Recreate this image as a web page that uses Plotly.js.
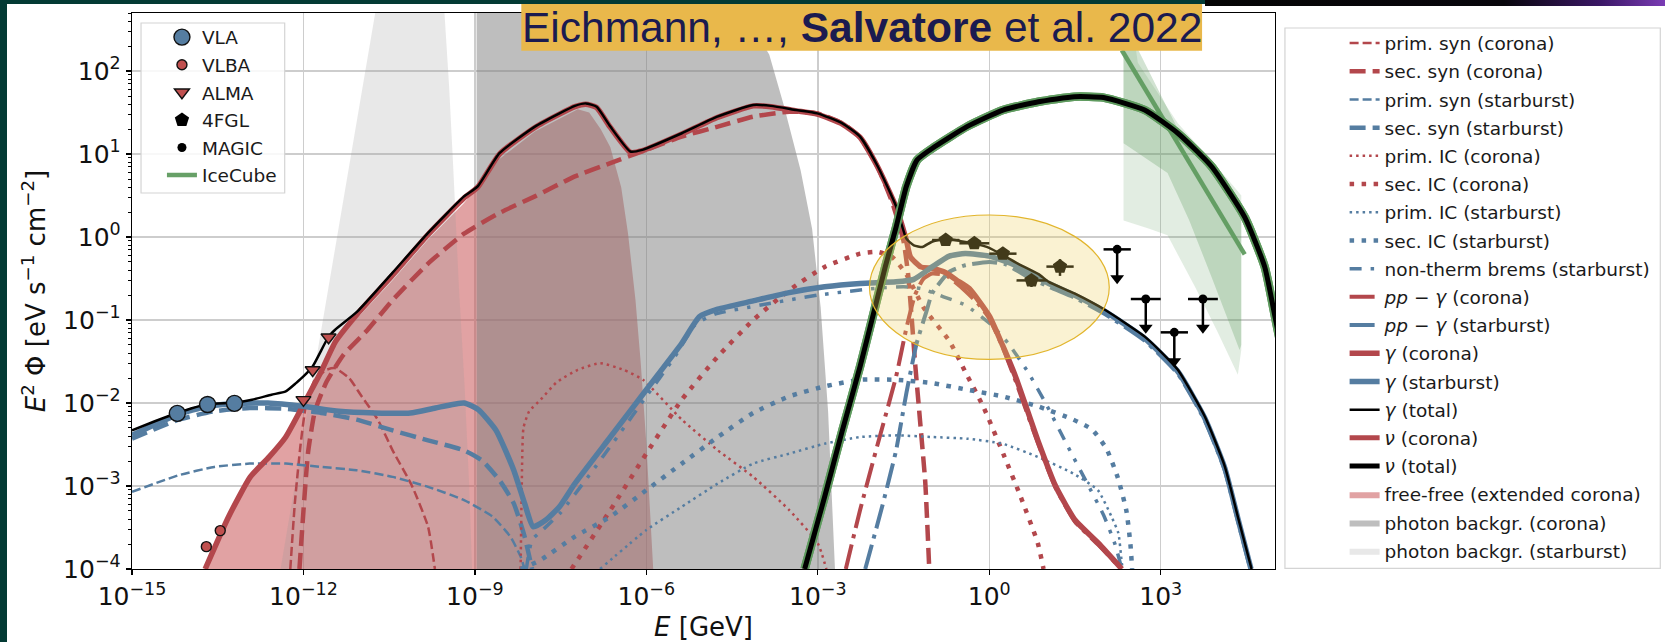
<!DOCTYPE html>
<html>
<head>
<meta charset="utf-8">
<script src="https://cdn.plot.ly/plotly-3.0.1.min.js"></script>
<style>
  html, body { margin:0; padding:0; width:1665px; height:642px; overflow:hidden; background:#033a34; }
  #frame { position:absolute; left:7px; top:4px; width:1658px; height:638px; background:#ffffff; }
  #chart { width:1658px; height:638px; }
  #topband { position:absolute; left:1205px; top:0; width:460px; height:6px;
    background:linear-gradient(90deg,#050505 0%,#08060c 65%,#3b1766 86%,#7a3cb4 100%); }
</style>
</head>
<body>
<div id="frame"><div id="chart"></div></div>
<div id="topband"></div>
<script>
// ---- model curves: log10(E / GeV) and log10(E^2 Phi / eV s^-1 cm^-2) ----
const gTotLogE = [-15, -14.6, -14.21, -13.68, -13.21, -12.9, -12.56, -12.31, -12.13, -12.0, -11.84, -11.56, -11.45, -11.06, -10.44, -9.82, -9.19, -8.95, -8.57, -7.95, -7.52, -7.25, -7.06, -6.87, -6.63, -6.28, -6.07, -5.38, -4.76, -4.13, -3.82, -3.38, -3.01, -2.57, -2.26, -1.95, -1.63, -1.45, -1.32, -1.17, -1.01, -0.76, -0.5, -0.26, 0.0, 0.24, 0.5, 0.87, 1.04, 1.49, 2.03, 2.72, 3.0, 3.3, 3.77, 4.12, 4.35, 4.59];
const gTotLogF = [-2.33, -2.22, -2.12, -2.015, -1.995, -1.96, -1.9, -1.86, -1.76, -1.68, -1.56, -1.2, -1.12, -0.9, -0.43, 0.05, 0.49, 0.61, 1.01, 1.33, 1.49, 1.58, 1.61, 1.57, 1.33, 1.03, 1.05, 1.25, 1.45, 1.59, 1.58, 1.53, 1.49, 1.37, 1.21, 0.85, 0.37, -0.02, -0.1, -0.12, -0.06, -0.02, -0.05, -0.08, -0.13, -0.22, -0.32, -0.45, -0.54, -0.68, -0.88, -1.2, -1.38, -1.6, -2.16, -2.76, -3.37, -4.0];

const gCorLogE = [-13.72, -13.31, -12.93, -12.6, -12.31, -12.0, -11.69, -11.44, -11.06, -10.44, -9.82, -9.19, -8.95, -8.57, -7.95, -7.52, -7.25, -7.06, -6.87, -6.63, -6.28, -6.07, -5.38, -4.76, -4.13, -3.82, -3.38, -3.01, -2.57, -2.26, -1.95, -1.63, -1.45, -1.38, -1.2, -1.0, -0.76, -0.57, -0.35, 0.0, 0.23, 0.47, 0.85, 1.16, 1.5, 1.91, 2.32];
const gCorLogF = [-4.0, -3.37, -2.89, -2.65, -2.41, -2.02, -1.62, -1.26, -0.93, -0.46, 0.03, 0.47, 0.6, 1.0, 1.32, 1.48, 1.57, 1.6, 1.56, 1.32, 1.02, 1.04, 1.24, 1.44, 1.58, 1.57, 1.52, 1.48, 1.36, 1.2, 0.84, 0.36, -0.04, -0.24, -0.36, -0.38, -0.43, -0.52, -0.62, -0.95, -1.3, -1.7, -2.45, -3.0, -3.41, -3.69, -4.0];

const gSbLogE = [-15, -14.6, -14.21, -13.68, -13.21, -12.62, -12.0, -11.38, -10.75, -10.13, -9.69, -9.19, -8.94, -8.63, -8.32, -8.13, -7.98, -7.76, -7.52, -7.25, -6.63, -6.0, -5.38, -5.07, -4.75, -4.13, -3.5, -2.88, -2.26, -1.63, -1.32, -1.0, -0.7, -0.42, 0.0, 0.45, 1.04, 1.49, 2.03, 2.72, 3.3, 3.77, 4.12, 4.35, 4.58];
const gSbLogF = [-2.39, -2.26, -2.14, -2.04, -2.01, -2.0, -2.04, -2.1, -2.12, -2.12, -2.06, -2.0, -2.08, -2.33, -2.81, -3.21, -3.49, -3.41, -3.25, -2.97, -2.41, -1.84, -1.28, -0.96, -0.87, -0.77, -0.67, -0.6, -0.56, -0.54, -0.51, -0.36, -0.23, -0.2, -0.23, -0.34, -0.56, -0.7, -0.9, -1.22, -1.62, -2.18, -2.78, -3.39, -4.0];

const pSynCLogE = [-12.23, -12.15, -12.05, -11.95, -11.8, -11.6, -11.45, -11.2, -11.0, -10.7, -10.44, -10.1, -9.82, -9.7];
const pSynCLogF = [-4.0, -3.2, -2.5, -2.0, -1.72, -1.6, -1.58, -1.7, -1.9, -2.2, -2.57, -3.0, -3.49, -4.0];

const sSynCLogE = [-12.07, -12.0, -11.92, -11.8, -11.6, -11.3, -10.88, -10.44, -9.82, -9.19, -8.57, -7.95, -7.25, -6.63, -6.0, -5.38, -4.75, -4.13, -3.5, -3.0, -2.57, -2.26, -1.95, -1.7, -1.5, -1.42, -1.36, -1.3, -1.2, -1.12, -1.05];
const sSynCLogF = [-4.0, -3.3, -2.6, -2.1, -1.75, -1.42, -1.12, -0.76, -0.32, 0.04, 0.29, 0.49, 0.73, 0.89, 1.05, 1.21, 1.33, 1.45, 1.51, 1.49, 1.37, 1.2, 0.84, 0.42, -0.05, -0.45, -0.95, -1.5, -2.3, -2.95, -4.0];

const pSynSLogE = [-15, -14.18, -13.56, -12.94, -12.31, -11.69, -11.07, -10.44, -9.82, -9.19, -8.69, -8.38, -8.2, -8.13];
const pSynSLogF = [-3.07, -2.87, -2.77, -2.73, -2.73, -2.77, -2.81, -2.89, -3.01, -3.17, -3.37, -3.61, -3.85, -4.0];

const sSynSLogE = [-15, -14.18, -13.56, -12.94, -12.31, -11.69, -11.07, -10.44, -9.82, -9.19, -8.88, -8.57, -8.32, -8.13, -8.0];
const sSynSLogF = [-2.43, -2.2, -2.1, -2.06, -2.07, -2.12, -2.2, -2.33, -2.45, -2.57, -2.69, -2.93, -3.21, -3.61, -4.0];

const pIcCLogE = [-8.2, -8.18, -8.15, -8.05, -7.85, -7.57, -7.2, -6.81, -6.4, -6.06, -5.38, -4.75, -4.13, -3.5, -3.0, -2.85];
const pIcCLogF = [-4.0, -3.0, -2.3, -2.1, -1.96, -1.75, -1.6, -1.52, -1.6, -1.72, -2.2, -2.57, -2.89, -3.29, -3.69, -4.0];

const sIcCLogE = [-7.31, -6.63, -6.0, -5.38, -4.75, -4.13, -3.5, -2.88, -2.26, -1.95, -1.7, -1.45, -1.15, -0.7, -0.4, -0.1, 0.25, 0.55, 0.85, 0.95];
const sIcCLogF = [-4.0, -3.29, -2.61, -1.96, -1.44, -1.0, -0.64, -0.36, -0.2, -0.18, -0.24, -0.45, -0.85, -1.25, -1.65, -2.05, -2.62, -3.13, -3.69, -4.0];

const pIcSLogE = [-6.81, -6.0, -5.38, -4.75, -4.13, -3.5, -2.88, -2.26, -1.63, -1.0, -0.39, 0.23, 0.85, 1.47, 1.9, 2.14, 2.26, 2.32, 2.34];
const pIcSLogF = [-4.0, -3.53, -3.25, -2.97, -2.73, -2.61, -2.49, -2.41, -2.39, -2.41, -2.43, -2.49, -2.65, -2.85, -3.05, -3.37, -3.57, -3.93, -4.0];

const sIcSLogE = [-8.2, -7.87, -7.25, -6.63, -6.0, -5.38, -4.75, -4.13, -3.5, -2.88, -2.26, -1.63, -1.0, -0.39, 0.23, 0.85, 1.47, 1.8, 2.05, 2.25, 2.4, 2.47, 2.5];
const sIcSLogF = [-4.0, -3.9, -3.61, -3.37, -3.05, -2.73, -2.41, -2.12, -1.92, -1.8, -1.72, -1.72, -1.76, -1.84, -1.92, -2.04, -2.2, -2.32, -2.55, -2.9, -3.3, -3.7, -4.0];

const bremsLogE = [-8.1, -8.0, -7.8, -7.5, -7.0, -6.5, -6.0, -5.5, -5.15, -4.8, -4.0, -3.0, -2.0, -1.5, -1.2, -0.8, -0.42, 0.04, 0.33, 0.68, 1.0, 1.35, 1.7, 2.0, 2.2, 2.32];
const bremsLogF = [-4.0, -3.65, -3.52, -3.32, -2.87, -2.4, -1.92, -1.44, -1.06, -0.93, -0.82, -0.7, -0.62, -0.6, -0.62, -0.72, -0.82, -1.06, -1.28, -1.63, -2.02, -2.49, -2.95, -3.35, -3.7, -4.0];

const ppCLogE = [-2.51, -2.26, -1.95, -1.63, -1.45, -1.3, -1.15, -1.0, -0.76, -0.5, -0.2, 0.0, 0.23, 0.47, 0.85, 1.16, 1.5, 1.91, 2.31];
const ppCLogF = [-4.0, -3.29, -2.49, -1.68, -1.1, -0.7, -0.5, -0.44, -0.46, -0.6, -0.8, -0.98, -1.32, -1.75, -2.48, -3.02, -3.43, -3.71, -4.0];

const ppSLogE = [-2.17, -1.89, -1.63, -1.45, -1.27, -1.1, -1.0, -0.7, -0.42, 0.0, 0.29, 0.6, 1.04, 1.49, 2.03, 2.72, 3.3, 3.77, 4.12, 4.35, 4.57];
const ppSLogF = [-4.0, -3.29, -2.57, -1.88, -1.28, -0.9, -0.68, -0.42, -0.34, -0.3, -0.33, -0.45, -0.6, -0.73, -0.93, -1.25, -1.65, -2.21, -2.81, -3.42, -4.0];

const nuTotLogE = [-3.23, -2.88, -2.57, -2.26, -2.01, -1.82, -1.63, -1.45, -1.26, -0.95, -0.39, 0.24, 0.86, 1.49, 2.0, 2.72, 3.3, 3.89, 4.47, 4.82, 5.0, 5.1];
const nuTotLogF = [-4.0, -3.13, -2.33, -1.56, -0.88, -0.36, 0.12, 0.61, 0.93, 1.09, 1.33, 1.53, 1.63, 1.69, 1.68, 1.53, 1.25, 0.85, 0.24, -0.36, -0.96, -1.3];
const nuCorLogE = [-3.23, -2.88, -2.57, -2.26, -2.01, -1.82, -1.63, -1.45, -1.26, -0.95, -0.39, 0.24, 0.86, 1.49, 2.0, 2.72, 3.3, 3.89, 4.47, 4.82, 5.0, 5.1];
const nuCorLogF = [-4.0, -3.13, -2.33, -1.56, -0.88, -0.36, 0.12, 0.61, 0.93, 1.09, 1.33, 1.53, 1.63, 1.69, 1.68, 1.53, 1.25, 0.85, 0.24, -0.36, -0.96, -1.3];

// ---- shaded regions (closed outlines) ----
const ffLogE = [-13.8, -13.72, -13.31, -12.93, -12.31, -12.0, -11.69, -11.44, -11.06, -10.44, -9.82, -9.19, -8.57, -7.95, -7.52, -7.2, -7.0, -6.8, -6.63, -6.44, -6.32, -6.19, -6.1, -6.0, -5.88, -5.85];
const ffLogF = [-5, -4.0, -3.37, -2.89, -2.41, -2.02, -1.62, -1.28, -0.98, -0.52, -0.03, 0.41, 0.94, 1.27, 1.43, 1.54, 1.5, 1.3, 1.08, 0.6, 0.04, -0.76, -1.5, -2.49, -4.0, -5];
const bkgCorLogE = [-8.97, -8.97, -4.4, -4.3, -3.85, -3.6, -3.3, -3.1, -2.95, -2.82, -2.7, -2.66];
const bkgCorLogF = [-5, 3, 3, 2.7, 2.2, 1.6, 0.8, 0.1, -0.85, -2.1, -4.0, -5];
const bkgSbLogE = [-12.5, -10.67, -9.56, -9.45, -9.38, -9.28, -9.18, -9.1, -9.05, -9.04];
const bkgSbLogF = [-4.4, 3, 3, 1.8, 0.85, -0.6, -1.8, -3.0, -4.0, -4.4];

// IceCube best fit and uncertainty regions
const icLineLogE = [2.32, 4.47];
const icLineLogF = [2.25, -0.21];
const icOuterLogE = [2.35, 2.35, 2.8, 3.12, 3.6, 4.0, 4.35, 4.41, 4.41, 4.18, 3.3, 2.6, 2.45];
const icOuterLogF = [2.8, 0.2, 0.1, 0.02, -0.6, -1.15, -1.66, -1.36, 0.5, 0.69, 1.37, 2.1, 2.8];
const icInnerLogE = [2.35, 2.35, 3.12, 3.5, 3.9, 4.38, 4.41, 4.41, 3.3, 2.5, 2.42];
const icInnerLogF = [2.8, 1.13, 0.77, 0.2, -0.5, -1.36, -1.3, 0.3, 1.3, 2.4, 2.8];

// ---- measurements (E in GeV, E^2 Phi in eV s^-1 cm^-2) ----
const vlaE = [6.2e-15, 2.1e-14, 6.2e-14];
const vlaF = [7.5e-3, 9.6e-3, 9.9e-3];
const vlbaE = [2.0e-14, 3.5e-14];
const vlbaF = [1.86e-4, 2.9e-4];
const almaE = [1.0e-12, 1.45e-12, 2.75e-12];
const almaF = [1.09e-2, 2.5e-2, 6.2e-2];
const fglE = [0.173, 0.548, 1.73, 5.48, 17.3];
const fglLo = [0.1, 0.3, 1, 3, 10];
const fglHi = [0.3, 1, 3, 10, 30];
const fglF = [0.92, 0.84, 0.63, 0.30, 0.44];
const fglErr = [0.12, 0.10, 0.08, 0.05, 0.10];
const magicE = [173, 548, 1730, 5480];
const magicLo = [100, 300, 1000, 3000];
const magicHi = [300, 1000, 3000, 10000];
const magicUL = [0.71, 0.179, 0.071, 0.179];

// ---- axis ticks ----
const xTickVals = [1e-15, 1e-12, 1e-9, 1e-6, 1e-3, 1, 1e3];
const xTickText = ['10<sup>−15</sup>', '10<sup>−12</sup>', '10<sup>−9</sup>', '10<sup>−6</sup>', '10<sup>−3</sup>', '10<sup>0</sup>', '10<sup>3</sup>'];
const yTickVals = [1e-4, 1e-3, 1e-2, 1e-1, 1, 10, 100];
const yTickText = ['10<sup>−4</sup>', '10<sup>−3</sup>', '10<sup>−2</sup>', '10<sup>−1</sup>', '10<sup>0</sup>', '10<sup>1</sup>', '10<sup>2</sup>'];

// ---- styling ----
const RED = '#b3474c';
const BLUE = '#557da1';
const GREEN = '#5f9b5f';
const FONT = 'DejaVu Sans';
const ulArrow = 0.45;   // length of upper-limit arrows (fraction of the limit)

const pow10 = a => a.map(v => Math.pow(10, v));

function curve(name, le, lf, color, width, dash, rank) {
  return {
    type: 'scatter', mode: 'lines', name: name,
    x: pow10(le), y: pow10(lf),
    line: { color: color, width: width, dash: dash || 'solid', shape: 'spline', smoothing: 0.5 },
    legend: 'legend2', legendgroup: 'r' + rank, legendrank: rank, hoverinfo: 'skip'
  };
}
function region(name, le, lf, fill, rank, show) {
  return {
    type: 'scatter', mode: 'lines', name: name,
    x: pow10(le), y: pow10(lf), fill: 'toself', fillcolor: fill,
    line: { width: 0, color: fill },
    legend: 'legend2', legendgroup: 'r' + rank, legendrank: rank,
    showlegend: show !== false, hoverinfo: 'skip'
  };
}
function outline(le, lf, width) {
  return {
    type: 'scatter', mode: 'lines', x: pow10(le), y: pow10(lf),
    line: { color: GREEN, width: width, shape: 'spline', smoothing: 0.5 },
    showlegend: false, hoverinfo: 'skip'
  };
}

const D_PSYN = '9px,4px';
const D_SSYN = '16px,7px';
const D_PIC = '2.5px,4px';
const D_SIC = '4.5px,7.5px';
const D_BREMS = '12px,9px,3.5px,9px,3.5px,9px';
const D_PP = '25px,6.5px,4px,6.5px';

const traces = [
  region('free-free (extended corona)', ffLogE, ffLogF, 'rgba(200,85,88,0.55)', 17),
  region('photon backgr. (corona)', bkgCorLogE, bkgCorLogF, 'rgba(125,125,125,0.5)', 18),
  region('photon backgr. (starburst)', bkgSbLogE, bkgSbLogF, 'rgba(150,150,150,0.22)', 19),
  region('IceCube 95%', icOuterLogE, icOuterLogF, 'rgba(95,155,95,0.18)', 90, false),
  region('IceCube 68%', icInnerLogE, icInnerLogF, 'rgba(95,155,95,0.28)', 91, false),

  curve('prim. syn (corona)', pSynCLogE, pSynCLogF, RED, 2.5, D_PSYN, 1),
  curve('sec. syn (corona)', sSynCLogE, sSynCLogF, RED, 4.5, D_SSYN, 2),
  curve('prim. syn (starburst)', pSynSLogE, pSynSLogF, BLUE, 2.5, D_PSYN, 3),
  curve('sec. syn (starburst)', sSynSLogE, sSynSLogF, BLUE, 4.5, D_SSYN, 4),
  curve('prim. IC (corona)', pIcCLogE, pIcCLogF, RED, 2.5, D_PIC, 5),
  curve('sec. IC (corona)', sIcCLogE, sIcCLogF, RED, 4.5, D_SIC, 6),
  curve('prim. IC (starburst)', pIcSLogE, pIcSLogF, BLUE, 2.5, D_PIC, 7),
  curve('sec. IC (starburst)', sIcSLogE, sIcSLogF, BLUE, 4.5, D_SIC, 8),
  curve('non-therm brems (starburst)', bremsLogE, bremsLogF, BLUE, 3.5, D_BREMS, 9),
  curve('<i>pp</i> − <i>γ</i> (corona)', ppCLogE, ppCLogF, RED, 4, D_PP, 10),
  curve('<i>pp</i> − <i>γ</i> (starburst)', ppSLogE, ppSLogF, BLUE, 4, D_PP, 11),

  {
    type: 'scatter', mode: 'lines', name: 'IceCube', x: pow10(icLineLogE), y: pow10(icLineLogF),
    line: { color: 'rgba(95,155,95,0.95)', width: 4.5 },
    legend: 'legend', legendgroup: 'm6', legendrank: 6, hoverinfo: 'skip'
  },

  curve('<i>γ</i> (corona)', gCorLogE, gCorLogF, RED, 5.5, 'solid', 12),
  curve('<i>γ</i> (starburst)', gSbLogE, gSbLogF, BLUE, 5.5, 'solid', 13),
  curve('<i>γ</i> (total)', gTotLogE, gTotLogF, '#000000', 2.5, 'solid', 14),

  outline(nuCorLogE, nuCorLogF, 8.5),
  curve('<i>ν</i> (corona)', nuCorLogE, nuCorLogF, RED, 5, 'solid', 15),
  outline(nuTotLogE, nuTotLogF, 8.5),
  curve('<i>ν</i> (total)', nuTotLogE, nuTotLogF, '#000000', 5, 'solid', 16),

  {
    type: 'scatter', mode: 'markers', name: 'VLA', x: vlaE, y: vlaF,
    marker: { symbol: 'circle', size: 16, color: BLUE, line: { color: '#111', width: 1.4 } },
    legend: 'legend', legendgroup: 'm1', legendrank: 1, hoverinfo: 'skip'
  },
  {
    type: 'scatter', mode: 'markers', name: 'VLBA', x: vlbaE, y: vlbaF,
    marker: { symbol: 'circle', size: 10, color: '#c0504f', line: { color: '#111', width: 1.4 } },
    legend: 'legend', legendgroup: 'm2', legendrank: 2, hoverinfo: 'skip'
  },
  {
    type: 'scatter', mode: 'markers', name: 'ALMA', x: almaE, y: almaF,
    marker: { symbol: 'triangle-down', size: 13, color: '#c0504f', line: { color: '#111', width: 1.4 } },
    legend: 'legend', legendgroup: 'm3', legendrank: 3, hoverinfo: 'skip'
  },
  {
    type: 'scatter', mode: 'markers', name: '4FGL', x: fglE, y: fglF,
    marker: { symbol: 'pentagon', size: 15, color: '#000' },
    error_x: { type: 'data', symmetric: false,
      array: fglHi.map((h, i) => h - fglE[i]), arrayminus: fglLo.map((l, i) => fglE[i] - l),
      color: '#000', thickness: 2.5, width: 0 },
    error_y: { type: 'data', array: fglErr, color: '#000', thickness: 2.5, width: 0 },
    legend: 'legend', legendgroup: 'm4', legendrank: 4, hoverinfo: 'skip'
  },
  {
    type: 'scatter', mode: 'markers', name: 'MAGIC', x: magicE, y: magicUL,
    marker: { symbol: 'circle', size: 9, color: '#000' },
    error_x: { type: 'data', symmetric: false,
      array: magicHi.map((h, i) => h - magicE[i]), arrayminus: magicLo.map((l, i) => magicE[i] - l),
      color: '#000', thickness: 2.5, width: 0 },
    error_y: { type: 'data', symmetric: false, array: magicUL.map(() => 0),
      arrayminus: magicUL.map(v => v * (1 - ulArrow)), color: '#000', thickness: 2.5, width: 0 },
    legend: 'legend', legendgroup: 'm5', legendrank: 5, hoverinfo: 'skip'
  },
  {
    type: 'scatter', mode: 'markers', x: magicE, y: magicUL.map(v => v * ulArrow),
    marker: { symbol: 'triangle-down', size: 12, color: '#000' },
    showlegend: false, hoverinfo: 'skip'
  }
];

// minor ticks on the flux axis (2..9 x 10^n)
const yMinor = [];
for (let p = -4; p <= 2; p++) for (let m = 2; m <= 9; m++) yMinor.push(m * Math.pow(10, p));

const axisCommon = {
  type: 'log', ticks: 'outside', ticklen: 5, tickwidth: 1.3, tickcolor: '#000',
  showline: true, mirror: true, linecolor: '#000', linewidth: 1.3,
  showgrid: true, gridcolor: '#cdcdcd', gridwidth: 1.5, zeroline: false,
  tickfont: { family: FONT, size: 25, color: '#111' }, automargin: false, tickmode: 'array'
};

const layout = {
  width: 1658, height: 638,
  margin: { l: 125, r: 388, t: 9, b: 73 },
  paper_bgcolor: '#ffffff', plot_bgcolor: '#ffffff',
  font: { family: FONT, color: '#111' },
  xaxis: Object.assign({}, axisCommon, {
    range: [-15, 5], tickvals: xTickVals, ticktext: xTickText,
    title: { text: '<i>E</i> [GeV]', font: { family: FONT, size: 26, color: '#111' }, standoff: 8 }
  }),
  yaxis: Object.assign({}, axisCommon, {
    range: [-4, 2.699], tickvals: yTickVals, ticktext: yTickText,
    minor: { tickmode: 'array', tickvals: yMinor, ticks: 'outside', ticklen: 3, tickwidth: 1, tickcolor: '#000', showgrid: false },
    title: { text: '<i>E</i><sup>2</sup> Φ [eV s<sup>−1</sup> cm<sup>−2</sup>]', font: { family: FONT, size: 26, color: '#111' }, standoff: 10 }
  }),
  legend: {
    x: 0.0262, y: 0.99, xanchor: 'left', yanchor: 'top',
    bgcolor: 'rgba(0,0,0,0)', borderwidth: 0, traceorder: 'grouped', tracegroupgap: 0.55,
    font: { family: FONT, size: 18.5, color: '#1a1a1a' }
  },
  legend2: {
    x: 1.0609, y: 0.9793, xanchor: 'left', yanchor: 'top',
    bgcolor: 'rgba(0,0,0,0)', borderwidth: 0, traceorder: 'grouped', tracegroupgap: 1.15,
    font: { family: FONT, size: 18.5, color: '#1a1a1a' }
  },
  shapes: [
    { type: 'circle', xref: 'paper', yref: 'paper', x0: 0.6452, x1: 0.8550, y0: 0.3772, y1: 0.6367,
      fillcolor: 'rgba(236,208,92,0.28)', line: { color: '#e2b52c', width: 1.2 }, layer: 'above' },
    { type: 'rect', xref: 'paper', yref: 'paper', x0: 0.3406, x1: 0.9362, y0: 0.9322, y1: 1.03,
      fillcolor: '#e9b84b', line: { width: 0 }, layer: 'above' },
    { type: 'rect', xref: 'paper', yref: 'paper', x0: 0.0079, x1: 0.1336, y0: 0.6763, y1: 0.982,
      fillcolor: 'rgba(255,255,255,0.85)', line: { color: '#d4d4d4', width: 1.2 }, layer: 'above' },
    { type: 'rect', xref: 'paper', yref: 'paper', x0: 1.0087, x1: 1.3371, y0: 0.0013, y1: 0.973,
      fillcolor: 'rgba(255,255,255,0.9)', line: { color: '#d4d4d4', width: 1.2 }, layer: 'above' }
  ],
  annotations: [
    { xref: 'paper', yref: 'paper', x: 0.6384, y: 0.9748, xanchor: 'center', yanchor: 'middle',
      text: 'Eichmann, …, <b>Salvatore</b> et al. 2022', showarrow: false,
      font: { family: 'Liberation Sans', size: 42.5, color: '#1b1b50' } }
  ]
};

Plotly.newPlot('chart', traces, layout, { staticPlot: true });
</script>
</body>
</html>
